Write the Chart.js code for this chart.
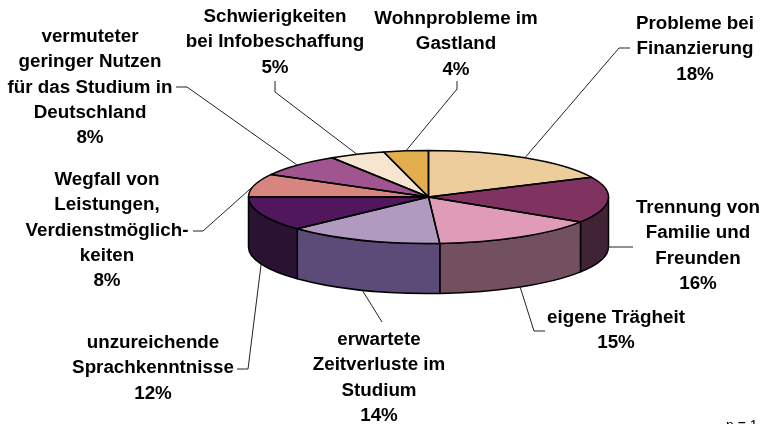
<!DOCTYPE html>
<html>
<head>
<meta charset="utf-8">
<style>
  html, body { margin: 0; padding: 0; background: #fff; overflow: hidden; }
  #wrap { position: relative; width: 763px; height: 424px; }
</style>
<script src="https://cdn.jsdelivr.net/npm/chart.js@4"></script>
</head>
<body>
<div id="wrap"><canvas id="pie" width="763" height="424"></canvas></div>
<script>
// data
const categories = [
    'Probleme bei|Finanzierung',
    'Trennung von|Familie und|Freunden',
    'eigene Trägheit',
    'erwartete|Zeitverluste im|Studium',
    'unzureichende|Sprachkenntnisse',
    'Wegfall von|Leistungen,|Verdienstmöglich-|keiten',
    'vermuteter|geringer Nutzen|für das Studium in|Deutschland',
    'Schwierigkeiten|bei Infobeschaffung',
    'Wohnprobleme im|Gastland'
];
const shares = [18, 16, 15, 14, 12, 8, 8, 5, 4];
const topColors = ['#eecd9c', '#803260', '#e09bb8', '#b09ac0', '#50175c', '#d88480', '#a05590', '#f6e5cf', '#e2ae4e'];
const wallColors = ['#77664e', '#402335', '#72505f', '#5c4b78', '#2a1233', '#6c4240', '#502a48', '#7b7267', '#715727'];

// label centre x, first line centre y
const labelX = [695, 698, 616, 379, 153, 107, 90, 275, 456];
const labelY = [24, 208, 318, 340, 343, 180, 37, 17, 19];
// leader lines after the rim point
const leaders = [
    [[619, 48], [630, 48]],
    [[608, 247], [633, 247]],
    [[534, 331], [545, 331]],
    [[382, 322]],
    [[248, 369], [237, 369]],
    [[203, 231], [193, 231]],
    [[187, 87], [176, 87]],
    [[275, 92], [275, 81]],
    [[457, 89], [457, 81]]
];

const pieX = 428.5, pieY = 197, radiusX = 180, radiusY = 46.5, depth = 50;
const lineHeight = 25.2;
const font = 'bold 18.8px "Liberation Sans", Arial, sans-serif';

function squash(ctx, arc) {
    ctx.translate(pieX, pieY);
    ctx.scale(radiusX / arc.outerRadius, radiusY / arc.outerRadius);
    ctx.translate(-arc.x, -arc.y);
}

const pie3d = {
    id: 'pie3d',
    beforeDatasetDraw(chart) {
        const ctx = chart.ctx;
        const arcs = chart.getDatasetMeta(0).data;
        ctx.save();
        // rim below the top face, only the front half shows
        arcs.forEach((arc, i) => {
            const a0 = Math.max(arc.startAngle, 0);
            const a1 = Math.min(arc.endAngle, Math.PI);
            if (a1 <= a0) return;
            ctx.beginPath();
            ctx.ellipse(pieX, pieY, radiusX, radiusY, 0, a0, a1);
            ctx.ellipse(pieX, pieY + depth, radiusX, radiusY, 0, a1, a0, true);
            ctx.closePath();
            ctx.fillStyle = wallColors[i];
            ctx.fill();
            ctx.lineWidth = 1.5;
            ctx.strokeStyle = '#000';
            ctx.lineJoin = 'round';
            ctx.stroke();
        });
        ctx.restore();
        ctx.save();
        squash(ctx, arcs[0]);
    },
    afterDatasetDraw(chart) {
        const ctx = chart.ctx;
        ctx.restore();
        const arcs = chart.getDatasetMeta(0).data;
        ctx.save();
        ctx.lineWidth = 1.5;
        ctx.strokeStyle = '#000';
        ctx.lineJoin = 'round';
        arcs.forEach(arc => {
            ctx.beginPath();
            ctx.moveTo(pieX, pieY);
            ctx.ellipse(pieX, pieY, radiusX, radiusY, 0, arc.startAngle, arc.endAngle);
            ctx.closePath();
            ctx.stroke();
        });
        ctx.restore();
    },
    afterDraw(chart) {
        const ctx = chart.ctx;
        const arcs = chart.getDatasetMeta(0).data;
        ctx.save();
        ctx.strokeStyle = '#222';
        ctx.lineWidth = 1;
        arcs.forEach((arc, i) => {
            const mid = (arc.startAngle + arc.endAngle) / 2;
            const front = Math.sin(mid) > 0;
            ctx.beginPath();
            ctx.moveTo(pieX + radiusX * Math.cos(mid), pieY + radiusY * Math.sin(mid) + (front ? depth : 0));
            leaders[i].forEach(p => ctx.lineTo(p[0], p[1]));
            ctx.stroke();
        });
        ctx.fillStyle = '#000';
        ctx.font = font;
        ctx.textAlign = 'center';
        ctx.textBaseline = 'middle';
        categories.forEach((name, i) => {
            const lines = name.split('|').concat(shares[i] + '%');
            lines.forEach((line, k) => ctx.fillText(line, labelX[i], labelY[i] + k * lineHeight));
        });
        ctx.font = '14px "Liberation Sans", Arial, sans-serif';
        ctx.textAlign = 'left';
        ctx.textBaseline = 'alphabetic';
        ctx.fillText('n = 1', 726, 429.5);
        ctx.restore();
    }
};

new Chart(document.getElementById('pie'), {
    type: 'pie',
    data: {
        labels: categories.map(c => c.replace(/\|/g, ' ')),
        datasets: [{ data: shares, backgroundColor: topColors, borderWidth: 0 }]
    },
    options: {
        responsive: false,
        animation: false,
        layout: { padding: { left: 248, right: 155, top: 32, bottom: 32 } },
        plugins: { legend: { display: false }, tooltip: { enabled: false } }
    },
    plugins: [pie3d]
});
</script>
</body>
</html>
